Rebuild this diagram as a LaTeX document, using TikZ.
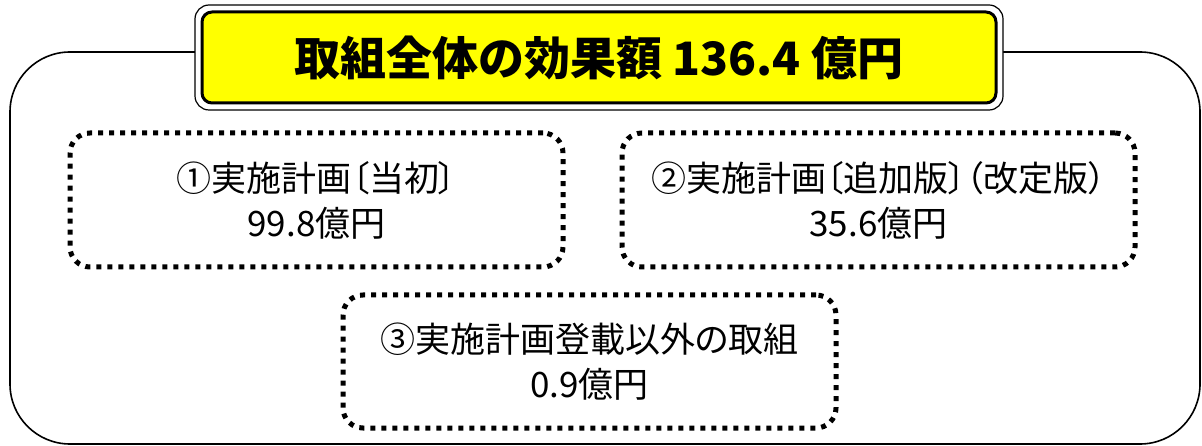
\documentclass[tikz,border=0pt]{standalone}
\usepackage{fontspec}
\newfontfamily\cjk[RawFeature=+palt]{Noto Sans CJK JP}
\definecolor{titleyellow}{RGB}{255,255,0}
\begin{document}
\begin{tikzpicture}[x=1pt,y=-1pt]
\tikzset{
  outerframe/.style={draw, line width=1.6pt, rounded corners=60pt},
  dotbox/.style={draw, line width=5pt, dash pattern=on 5pt off 6pt, rounded corners=20pt,
    align=center, inner sep=0pt, font=\cjk\fontsize{35}{45}\selectfont},
  titleouter/.style={draw, line width=1.2pt, fill=white, rounded corners=14pt, inner sep=0pt},
  titleinner/.style={draw, line width=3pt, fill=titleyellow, rounded corners=10pt, inner sep=0pt,
    font=\cjk\bfseries\fontsize{46}{46}\selectfont}
}
\useasboundingbox (0,0) rectangle (1202,446);
\fill[white] (0,0) rectangle (1202,446);
\draw[outerframe] (10,52) rectangle (1200,444);
\node[titleouter, minimum width=808pt, minimum height=105pt] (titleout) at (599,57.5) {};
\node[titleinner, minimum width=794pt, minimum height=91pt] (title) at (599,57.5) {取組全体の効果額 136.4 億円};
\node[dotbox, minimum width=493pt, minimum height=134pt] (b1) at (316.5,200) {①実施計画〔当初〕\\99.8億円};
\node[dotbox, minimum width=513pt, minimum height=134pt] (b2) at (878.5,200) {②実施計画〔追加版〕（改定版）\\35.6億円};
\node[dotbox, minimum width=493pt, minimum height=133pt] (b3) at (589.5,361.5) {③実施計画登載以外の取組\\0.9億円};
\end{tikzpicture}
\end{document}
